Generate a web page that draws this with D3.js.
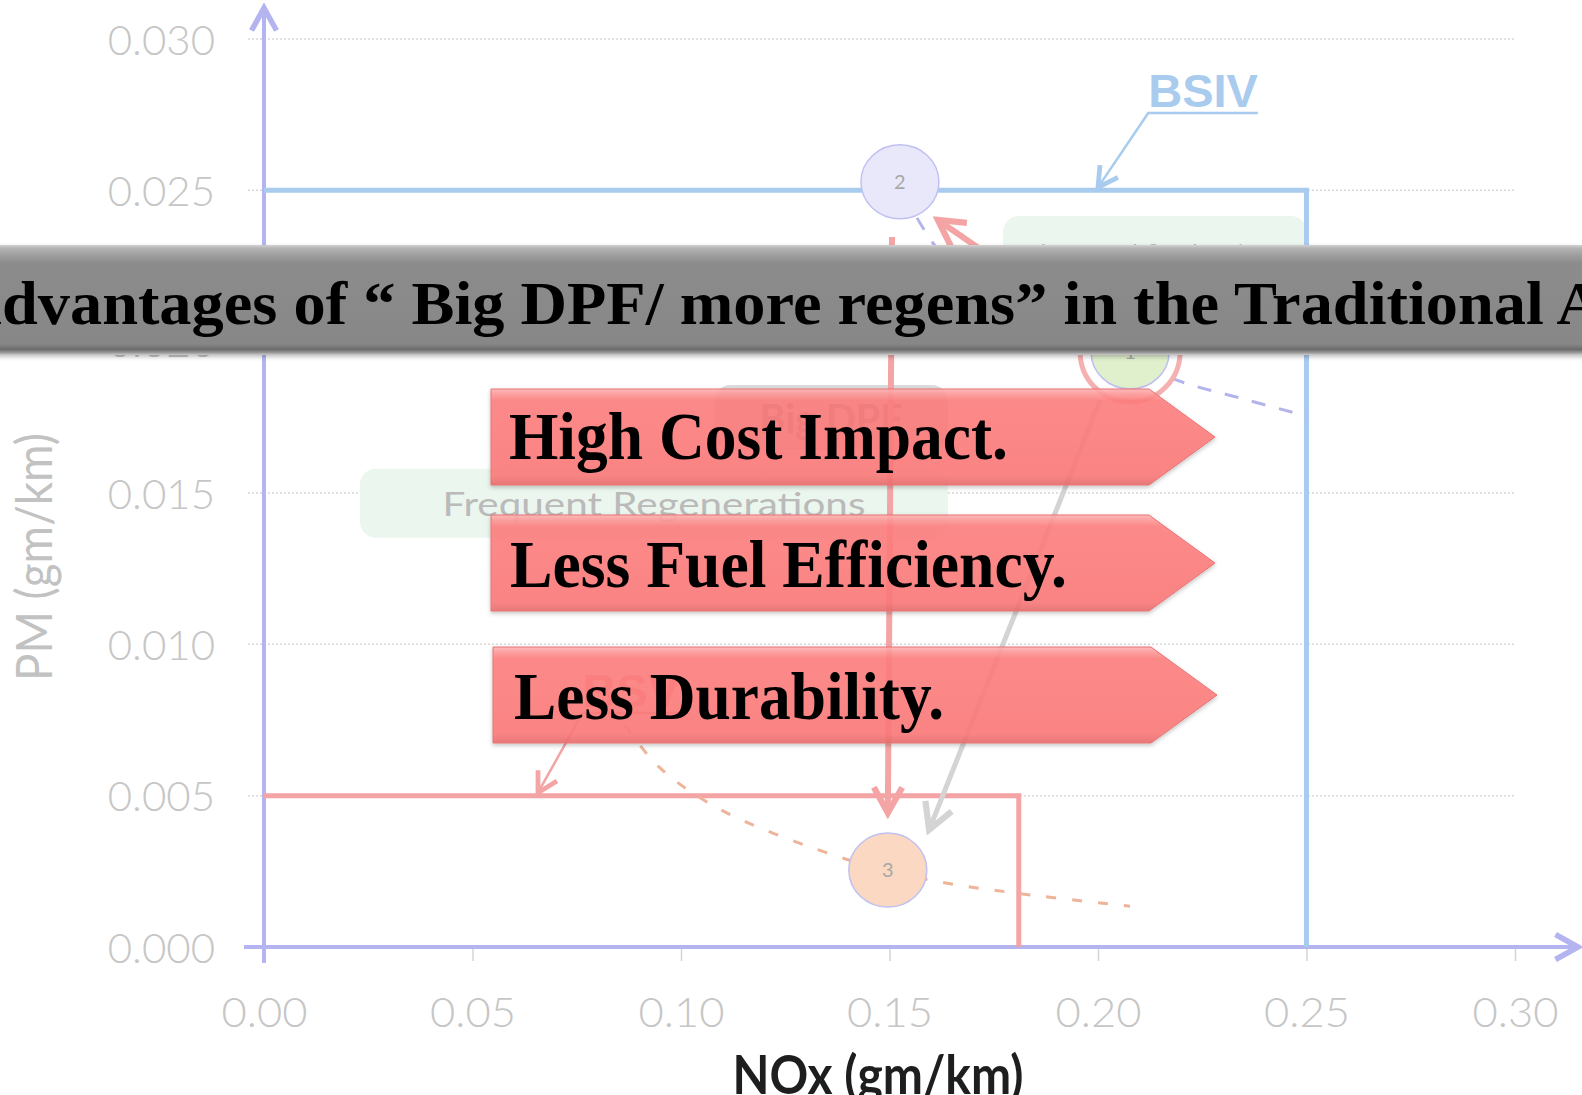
<!DOCTYPE html>
<html>
<head>
<meta charset="utf-8">
<script src="https://cdnjs.cloudflare.com/ajax/libs/d3/7.8.5/d3.min.js"></script>
<style>
  html, body { margin: 0; padding: 0; background: #fff; overflow: hidden; }
  svg { display: block; }
</style>
</head>
<body>
<svg id="viz"></svg>
<script>
// ----------------------------------------------------------------------------------------------------------------
// DATA

var xTicks = [0, 0.05, 0.10, 0.15, 0.20, 0.25, 0.30];
var yTicks = [0, 0.005, 0.010, 0.015, 0.020, 0.025, 0.030];

// emission limit boxes
var limitNames = ["BSIV", "BSV"];
var limitNox = [0.25, 0.181];
var limitPm = [0.025, 0.005];
var limitLabelNox = [0.2252, 0.0880];
var limitLabelPm = [0.02775, 0.00793];
var limitPointerNox = [0.200, 0.0657];

// engine points
var pointNames = ["1", "2", "3"];
var pointNox = [0.2077, 0.1525, 0.1496];
var pointPm = [0.01966, 0.02528, 0.00254];

// NOx / PM trade-off curves
var curveBeforeNox = [0.1566, 0.1604, 0.1681, 0.1789, 0.1933, 0.2077, 0.2189, 0.2340, 0.2501];
var curveBeforePm = [0.02409, 0.02326, 0.02204, 0.02105, 0.02022, 0.01946, 0.01873, 0.01814, 0.01754];
var curveAfterNox = [0.0866, 0.0947, 0.1096, 0.1365, 0.1496, 0.1621, 0.1803, 0.2077];
var curveAfterPm = [0.00733, 0.00595, 0.00453, 0.00304, 0.00254, 0.00215, 0.00178, 0.00135];

// arrows between points
var moveFromNox = [0.1974, 0.1506, 0.2005];
var moveFromPm = [0.02062, 0.02346, 0.01807];
var moveToNox = [0.1616, 0.1496, 0.1595];
var moveToPm = [0.02402, 0.00443, 0.00387];
var moveKind = ["red", "red", "grey"];

// note boxes
var noteTexts = ["Frequent Regenerations", "Big DPF", "Improved Combustion"];
var noteNox0 = [0.0230, 0.1080, 0.1772];
var noteNox1 = [0.1640, 0.1640, 0.2501];
var notePm0 = [0.01580, 0.01857, 0.02415];
var notePm1 = [0.01352, 0.01642, 0.02138];

// slide overlay
var titleText = "Disadvantages of \u201C Big DPF/ more regens\u201D in the Traditional Approach";
var bullets = ["High Cost Impact.", "Less Fuel Efficiency.", "Less Durability."];

// ----------------------------------------------------------------------------------------------------------------
// INITIAL SETUP

var w = 1582;
var h = 1095;
var viz = d3.select("#viz").attr("width", w).attr("height", h);

var x = d3.scaleLinear().domain([0, 0.3]).range([264, 1515]);
var y = d3.scaleLinear().domain([0, 0.03]).range([947, 39]);

var defs = viz.append("defs");

function chevron(id, color, size) {
  defs.append("marker")
    .attr("id", id)
    .attr("viewBox", "0 0 12 12")
    .attr("refX", 10).attr("refY", 6)
    .attr("markerWidth", size).attr("markerHeight", size)
    .attr("markerUnits", "userSpaceOnUse")
    .attr("orient", "auto")
    .append("path")
    .attr("d", "M1,1 L10,6 L1,11")
    .attr("fill", "none")
    .attr("stroke", color)
    .attr("stroke-width", 2.2);
}
chevron("arr-axis", "#b4b4f0", 30);
chevron("arr-red", "#f4a4a4", 34);
chevron("arr-grey", "#d4d4d4", 34);
chevron("arr-blue", "#a8cbee", 26);
chevron("arr-bsv", "#f4a4a4", 26);

var pinkGrad = defs.append("linearGradient").attr("id", "pink").attr("x1", 0).attr("x2", 0).attr("y1", 0).attr("y2", 1);
[[0, "#ffb4b4"], [0.05, "#ff9a9a"], [0.12, "#ff7e7e"], [0.9, "#fd7a7a"], [1, "#e86c6c"]].forEach(function(s) {
  pinkGrad.append("stop").attr("offset", s[0]).attr("stop-color", s[1]);
});

var greyGrad = defs.append("linearGradient").attr("id", "band").attr("x1", 0).attr("x2", 0).attr("y1", 0).attr("y2", 1);
[[0, "#d2d2d2"], [0.03, "#b4b4b4"], [0.08, "#a2a2a2"], [0.16, "#8c8c8c"], [0.9, "#878787"],
 [0.95, "#6c6c6c"], [0.98, "#9c9c9c"], [1, "#cccccc"]].forEach(function(s) {
  greyGrad.append("stop").attr("offset", s[0]).attr("stop-color", s[1]);
});

defs.append("filter").attr("id", "shadow").attr("x", "-5%").attr("y", "-20%").attr("width", "115%").attr("height", "150%")
  .append("feDropShadow").attr("dx", 0).attr("dy", 2).attr("stdDeviation", 2).attr("flood-color", "#000").attr("flood-opacity", 0.25);

// ----------------------------------------------------------------------------------------------------------------
// CHART

var chart = viz.append("g").attr("class", "chart");

// grid
chart.selectAll("line.grid")
  .data(yTicks)
  .enter()
  .append("line")
  .attr("class", "grid")
  .attr("x1", x(0) - 16).attr("x2", x(0.3))
  .attr("y1", function(d) { return y(d); })
  .attr("y2", function(d) { return y(d); })
  .attr("stroke", "#d8d8d8")
  .attr("stroke-width", 1.5)
  .attr("stroke-dasharray", "2 2");

// axes
var yAxis = chart.append("g")
  .attr("transform", "translate(" + x(0) + ",0)")
  .call(d3.axisLeft(y).tickValues(yTicks).tickFormat(d3.format(".3f")).tickSize(0).tickPadding(49));
var xAxis = chart.append("g")
  .attr("transform", "translate(0," + y(0) + ")")
  .call(d3.axisBottom(x).tickValues(xTicks).tickFormat(d3.format(".2f")).tickSize(14).tickPadding(0));
[yAxis, xAxis].forEach(function(a) {
  a.select(".domain").remove();
  a.selectAll("line").attr("stroke", "#d4d4d4").attr("stroke-width", 1.5);
  a.selectAll("text")
    .attr("fill", "#c6c6c6")
    .attr("font-family", "Lato, 'Open Sans', sans-serif")
    .attr("font-weight", 300)
    .attr("font-size", 42);
});
yAxis.selectAll("text").attr("dy", "0.36em");
xAxis.selectAll("text").attr("y", 80).attr("dy", 0).attr("textLength", 86).attr("lengthAdjust", "spacingAndGlyphs");

chart.append("line")
  .attr("x1", x(0)).attr("x2", x(0))
  .attr("y1", y(0) + 16).attr("y2", 8)
  .attr("stroke", "#b4b4f0").attr("stroke-width", 4)
  .attr("marker-end", "url(#arr-axis)");
chart.append("line")
  .attr("x1", x(0) - 20).attr("x2", 1578)
  .attr("y1", y(0)).attr("y2", y(0))
  .attr("stroke", "#b4b4f0").attr("stroke-width", 4)
  .attr("marker-end", "url(#arr-axis)");

// axis titles
chart.append("text")
  .attr("transform", "translate(52,557) rotate(-90)")
  .attr("text-anchor", "middle")
  .attr("font-family", "Lato, sans-serif")
  .attr("font-size", 50)
  .attr("fill", "#c2c2c2")
  .attr("textLength", 248).attr("lengthAdjust", "spacingAndGlyphs")
  .text("PM (gm/km)");
chart.append("text")
  .attr("x", 878).attr("y", 1094)
  .attr("text-anchor", "middle")
  .attr("font-family", "Lato, sans-serif")
  .attr("font-weight", "bold")
  .attr("font-size", 54)
  .attr("fill", "#1e1e1e")
  .attr("textLength", 291).attr("lengthAdjust", "spacingAndGlyphs")
  .text("NOx (gm/km)");

// note boxes (faint)
var noteLen = [423, 143, 230];
chart.selectAll("rect.note")
  .data(noteTexts)
  .enter()
  .append("rect")
  .attr("class", "note")
  .attr("x", function(d, i) { return x(noteNox0[i]); })
  .attr("y", function(d, i) { return y(notePm0[i]); })
  .attr("width", function(d, i) { return x(noteNox1[i]) - x(noteNox0[i]); })
  .attr("height", function(d, i) { return y(notePm1[i]) - y(notePm0[i]); })
  .attr("rx", 16)
  .attr("fill", function(d, i) { return i == 1 ? "#dcdcdc" : "#ebf6ee"; });
chart.selectAll("text.note")
  .data(noteTexts)
  .enter()
  .append("text")
  .attr("class", "note")
  .attr("x", function(d, i) { return (x(noteNox0[i]) + x(noteNox1[i])) / 2; })
  .attr("y", function(d, i) { return y(notePm0[i]) + [47, 48, 52][i]; })
  .attr("text-anchor", "middle")
  .attr("font-family", "Lato, sans-serif")
  .attr("font-size", function(d, i) { return i == 1 ? 40 : 33; })
  .attr("font-weight", function(d, i) { return i == 1 ? "bold" : "normal"; })
  .attr("fill", function(d, i) { return i == 1 ? "#8a8a8a" : "#bababa"; })
  .attr("textLength", function(d, i) { return noteLen[i]; })
  .attr("lengthAdjust", "spacingAndGlyphs")
  .text(function(d) { return d; });

// limit boxes
var limitColor = ["#a8cbee", "#f4a4a4"];
chart.selectAll("path.limit")
  .data(limitNames)
  .enter()
  .append("path")
  .attr("class", "limit")
  .attr("d", function(d, i) {
    return "M" + x(0) + "," + y(limitPm[i]) + "H" + x(limitNox[i]) + "V" + y(0);
  })
  .attr("fill", "none")
  .attr("stroke", function(d, i) { return limitColor[i]; })
  .attr("stroke-width", 5);

limitNames.forEach(function(name, i) {
  var t = chart.append("text")
    .attr("x", x(limitLabelNox[i])).attr("y", y(limitLabelPm[i]))
    .attr("text-anchor", "middle")
    .attr("font-family", "'Liberation Sans', Arial, sans-serif")
    .attr("font-weight", "bold")
    .attr("font-size", 47)
    .attr("fill", limitColor[i])
    .text(name);
  var bw = t.node().getComputedTextLength();
  var ux0 = x(limitLabelNox[i]) - bw / 2;
  var uy = y(limitLabelPm[i]) + 6;
  chart.append("path")
    .attr("d", "M" + (ux0 + bw) + "," + uy + "H" + ux0 + "L" + x(limitPointerNox[i]) + "," + (y(limitPm[i]) - 3))
    .attr("fill", "none")
    .attr("stroke", limitColor[i])
    .attr("stroke-width", 2.5)
    .attr("marker-end", i == 0 ? "url(#arr-blue)" : "url(#arr-bsv)");
});

// trade-off curves
var line = d3.line().curve(d3.curveCatmullRom).x(function(d) { return x(d[0]); }).y(function(d) { return y(d[1]); });
chart.append("path")
  .attr("d", line(d3.zip(curveBeforeNox, curveBeforePm)))
  .attr("fill", "none").attr("stroke", "#b4b4ec").attr("stroke-width", 3)
  .attr("stroke-dasharray", "14 14");
chart.append("path")
  .attr("d", line(d3.zip(curveAfterNox, curveAfterPm)))
  .attr("fill", "none").attr("stroke", "#eeb49a").attr("stroke-width", 3)
  .attr("stroke-dasharray", "10 16");

// moves between points
chart.selectAll("line.move")
  .data(moveKind)
  .enter()
  .append("line")
  .attr("class", "move")
  .attr("x1", function(d, i) { return x(moveFromNox[i]); })
  .attr("y1", function(d, i) { return y(moveFromPm[i]); })
  .attr("x2", function(d, i) { return x(moveToNox[i]); })
  .attr("y2", function(d, i) { return y(moveToPm[i]); })
  .attr("stroke", function(d) { return d == "red" ? "#f4a4a4" : "#d4d4d4"; })
  .attr("stroke-width", function(d) { return d == "red" ? 6 : 5; })
  .attr("marker-end", function(d) { return d == "red" ? "url(#arr-red)" : "url(#arr-grey)"; });

// points
var pointFill = ["#e0f0cc", "#e8e8fa", "#fad8c2"];
chart.append("circle")
  .attr("cx", x(pointNox[0])).attr("cy", y(pointPm[0]))
  .attr("r", 50)
  .attr("fill", "none").attr("stroke", "#f6b0b0").attr("stroke-width", 5);
chart.selectAll("ellipse.pt")
  .data(pointNames)
  .enter()
  .append("ellipse")
  .attr("class", "pt")
  .attr("cx", function(d, i) { return x(pointNox[i]); })
  .attr("cy", function(d, i) { return y(pointPm[i]); })
  .attr("rx", 39).attr("ry", 37)
  .attr("fill", function(d, i) { return pointFill[i]; })
  .attr("stroke", "#c0c0f2").attr("stroke-width", 1.5);
chart.selectAll("text.pt")
  .data(pointNames)
  .enter()
  .append("text")
  .attr("class", "pt")
  .attr("x", function(d, i) { return x(pointNox[i]); })
  .attr("y", function(d, i) { return y(pointPm[i]) + 7; })
  .attr("text-anchor", "middle")
  .attr("font-family", "Lato, sans-serif")
  .attr("font-size", 20)
  .attr("fill", "#a8a8a8")
  .text(function(d) { return d; });

// ----------------------------------------------------------------------------------------------------------------
// SLIDE OVERLAY

var arrowLeft = 491, arrowShoulder = 1149, arrowTip = 1215, arrowH = 96;
var arrowTops = [389, 515, 647];
var bulletX = [509, 510, 514];
var bulletBase = [459, 587, 719];
var bulletLen = [499, 557, 430];

var tags = viz.append("g").attr("class", "tags");
tags.selectAll("path")
  .data(bullets)
  .enter()
  .append("path")
  .attr("d", function(d, i) {
    var t = arrowTops[i], dx = i == 2 ? 2 : 0;
    return "M" + (arrowLeft + dx) + "," + t + "H" + (arrowShoulder + dx) + "L" + (arrowTip + dx) + "," + (t + arrowH / 2) +
      "L" + (arrowShoulder + dx) + "," + (t + arrowH) + "H" + (arrowLeft + dx) + "Z";
  })
  .attr("fill", "url(#pink)")
  .attr("fill-opacity", 0.88)
  .attr("stroke", "#e77272")
  .attr("stroke-width", 1)
  .attr("filter", "url(#shadow)");
tags.selectAll("text")
  .data(bullets)
  .enter()
  .append("text")
  .attr("x", function(d, i) { return bulletX[i]; })
  .attr("y", function(d, i) { return bulletBase[i]; })
  .attr("font-family", "'Liberation Serif', 'Times New Roman', serif")
  .attr("font-weight", "bold")
  .attr("font-size", 68)
  .attr("fill", "#000")
  .attr("textLength", function(d, i) { return bulletLen[i]; })
  .attr("lengthAdjust", "spacingAndGlyphs")
  .text(function(d) { return d; });

// title band
var band = viz.append("g").attr("class", "band");
band.append("rect")
  .attr("x", -10).attr("y", 245)
  .attr("width", w + 20).attr("height", 110)
  .attr("fill", "url(#band)")
  .attr("filter", "url(#shadow)");
var title = band.append("text")
  .attr("x", 0).attr("y", 324)
  .attr("font-family", "'Liberation Serif', 'Times New Roman', serif")
  .attr("font-weight", "bold")
  .attr("font-size", 62)
  .attr("fill", "#000")
  .style("white-space", "pre")
  .text(titleText);
var tn = title.node();
var p0 = tn.getStartPositionOfChar(titleText.indexOf("dvantages")).x;
var p1 = tn.getStartPositionOfChar(titleText.indexOf("Approach")).x;
var sx = (1557 - 2) / (p1 - p0);
title.attr("transform", "translate(" + (2 - sx * p0) + ",0) scale(" + sx + ",1)");
</script>
</body>
</html>
